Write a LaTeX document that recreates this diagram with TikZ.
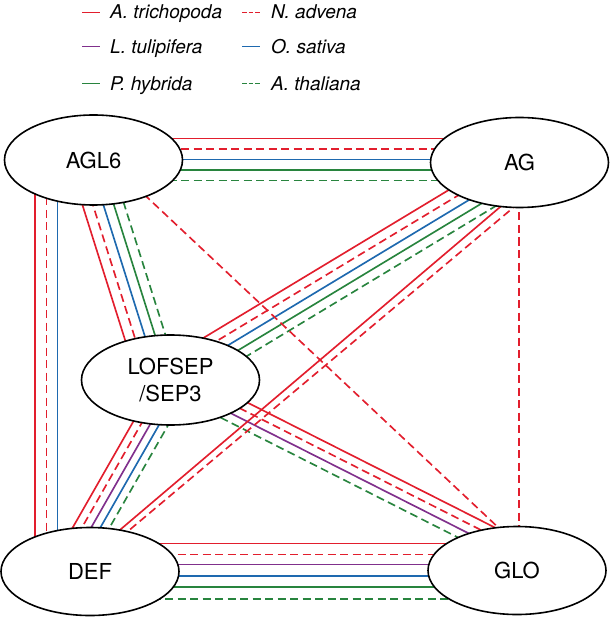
\documentclass[tikz,border=0pt]{standalone}
\usepackage{fontspec}
\setmainfont{TeX Gyre Heros}
\usetikzlibrary{shapes.geometric,calc,backgrounds}
\definecolor{cred}{RGB}{226,30,45}
\definecolor{cpur}{RGB}{128,48,140}
\definecolor{cblu}{RGB}{30,105,175}
\definecolor{cgrn}{RGB}{40,132,62}
\tikzset{
 gene/.style={ellipse,draw=black,line width=1.6pt,fill=white,minimum width=178pt,minimum height=90pt,inner sep=0pt,outer sep=0pt,font=\fontsize{22}{26}\selectfont,align=center},
 ln/.style={line width=1.65pt},
 dsh/.style={ln,dash pattern=on 8pt off 4.5pt},
 sAt/.style={ln,cred},
 sNa/.style={dsh,cred},
 sLt/.style={ln,cpur},
 sOs/.style={ln,cblu},
 sPh/.style={ln,cgrn},
 sTh/.style={dsh,cgrn},
 legdash/.style={dash pattern=on 4.5pt off 2pt},
 leg/.style={font=\fontsize{19}{22}\selectfont\itshape,anchor=base west,inner sep=0pt},
}
\newcommand\bund[4]{\draw[#4] ($(#1)!#3!90:(#2)$) -- ($(#2)!#3!-90:(#1)$);}
\begin{document}
\begin{tikzpicture}[x=1pt,y=-1pt]
\useasboundingbox (0,0) rectangle (610,617);
% nodes
\node[gene] (AGL6) at (93.5,160) {AGL6};
\node[gene] (AG) at (519.5,162.5) {AG};
\node[gene] (LOF) at (170.5,380) {LOFSEP\\/SEP3};
\node[gene,minimum height=88pt] (DEF) at (90,571.5) {DEF};
\node[gene,minimum height=88pt] (GLO) at (517,570.5) {GLO};
% legend
\draw[sAt] (82,12.5) coordinate (a1) -- (99.5,12.5) coordinate (a2);
\node[leg] (ta) at (110,19) {A. trichopoda};
\draw[sLt] (82,46.5) coordinate (b1) -- (99.5,46.5) coordinate (b2);
\node[leg] (tb) at (110,53.5) {L. tulipifera};
\draw[sPh] (82,83.5) coordinate (c1) -- (99.5,83.5) coordinate (c2);
\node[leg] (tc) at (110,90.1) {P. hybrida};
\draw[sNa,legdash] (242,12.5) coordinate (d1) -- (259.5,12.5) coordinate (d2);
\node[leg] (td) at (271,19) {N. advena};
\draw[sOs] (242,46.5) coordinate (e1) -- (259.5,46.5) coordinate (e2);
\node[leg] (te) at (271,53.5) {O. sativa};
\draw[sTh,legdash] (242,83.5) coordinate (f1) -- (259.5,83.5) coordinate (f2);
\node[leg] (tf) at (271,90.1) {A. thaliana};
% connectors
\begin{scope}[on background layer]
 % AGL6 -- AG
 \foreach \dy/\st in {-21.5/sAt,-11/sNa,-0.5/sOs,10/sPh,20.5/sTh}
   \draw[\st] ($(AGL6.center)+(0,\dy)$) -- ($(AG.center |- AGL6.center)+(0,\dy)$);
 % AGL6 -- DEF
 \foreach \dx/\st in {-58.5/sAt,-47/sNa,-36/sOs}
   \draw[\st] ($(AGL6.center)+(\dx,0)$) -- ($(AGL6.center |- DEF.center)+(\dx,0)$);
 % DEF -- GLO
 \foreach \dy/\st in {-28/sAt,-17/sNa,-7/sLt,4.5/sOs,15.5/sPh,27.5/sTh}
   \draw[\st] ($(DEF.center)+(0,\dy)$) -- ($(GLO.center |- DEF.center)+(0,\dy)$);
 % AGL6 -- LOF
 \coordinate (p1) at ($(AGL6.center)+(-4.3,0)$);
 \coordinate (q1) at ($(LOF.center)+(-11.8,0)$);
 \foreach \o/\st in {-20/sAt,-10/sNa,0/sOs,10/sPh,20/sTh}
   {\bund{p1}{q1}{\o pt}{\st}}
 % AG -- LOF
 \coordinate (p2) at ($(AG.center)+(0,7)$);
 \coordinate (q2) at (LOF.center);
 \foreach \o/\st in {-19/sAt,-9.5/sNa,0/sOs,9.5/sPh,19/sTh}
   {\bund{p2}{q2}{\o pt}{\st}}
 % LOF -- DEF
 \coordinate (p3) at ($(LOF.center)+(5,0)$);
 \coordinate (q3) at ($(DEF.center)+(-24,0)$);
 \foreach \o/\st in {-16/sAt,-8/sNa,0/sLt,8/sOs,16/sTh}
   {\bund{p3}{q3}{\o pt}{\st}}
 % LOF -- GLO
 \coordinate (p4) at ($(LOF.center)+(0,-2)$);
 \coordinate (q4) at ($(GLO.center)+(0,-17.5)$);
 \foreach \o/\st in {12.75/sAt,4.25/sNa,-4.25/sLt,-12.75/sTh}
   {\bund{p4}{q4}{\o pt}{\st}}
 % AG -- DEF
 \draw[sAt] ($(AG.center)+(33,0)$) -- ($(DEF.center)+(-19,0)$);
 \draw[sNa] ($(AG.center)+(47.5,0)$) -- ($(DEF.center)+(-10,0)$);
 % AGL6 -- GLO
 \draw[sNa] ($(AGL6.center)+(14,0)$) -- ($(GLO.center)+(27,0)$);
 % AG -- GLO
 \draw[sNa] ($(AG.center)+(-0.5,0)$) -- ($(AG.center |- GLO.center)+(-0.5,0)$);
\end{scope}
\end{tikzpicture}
\end{document}
